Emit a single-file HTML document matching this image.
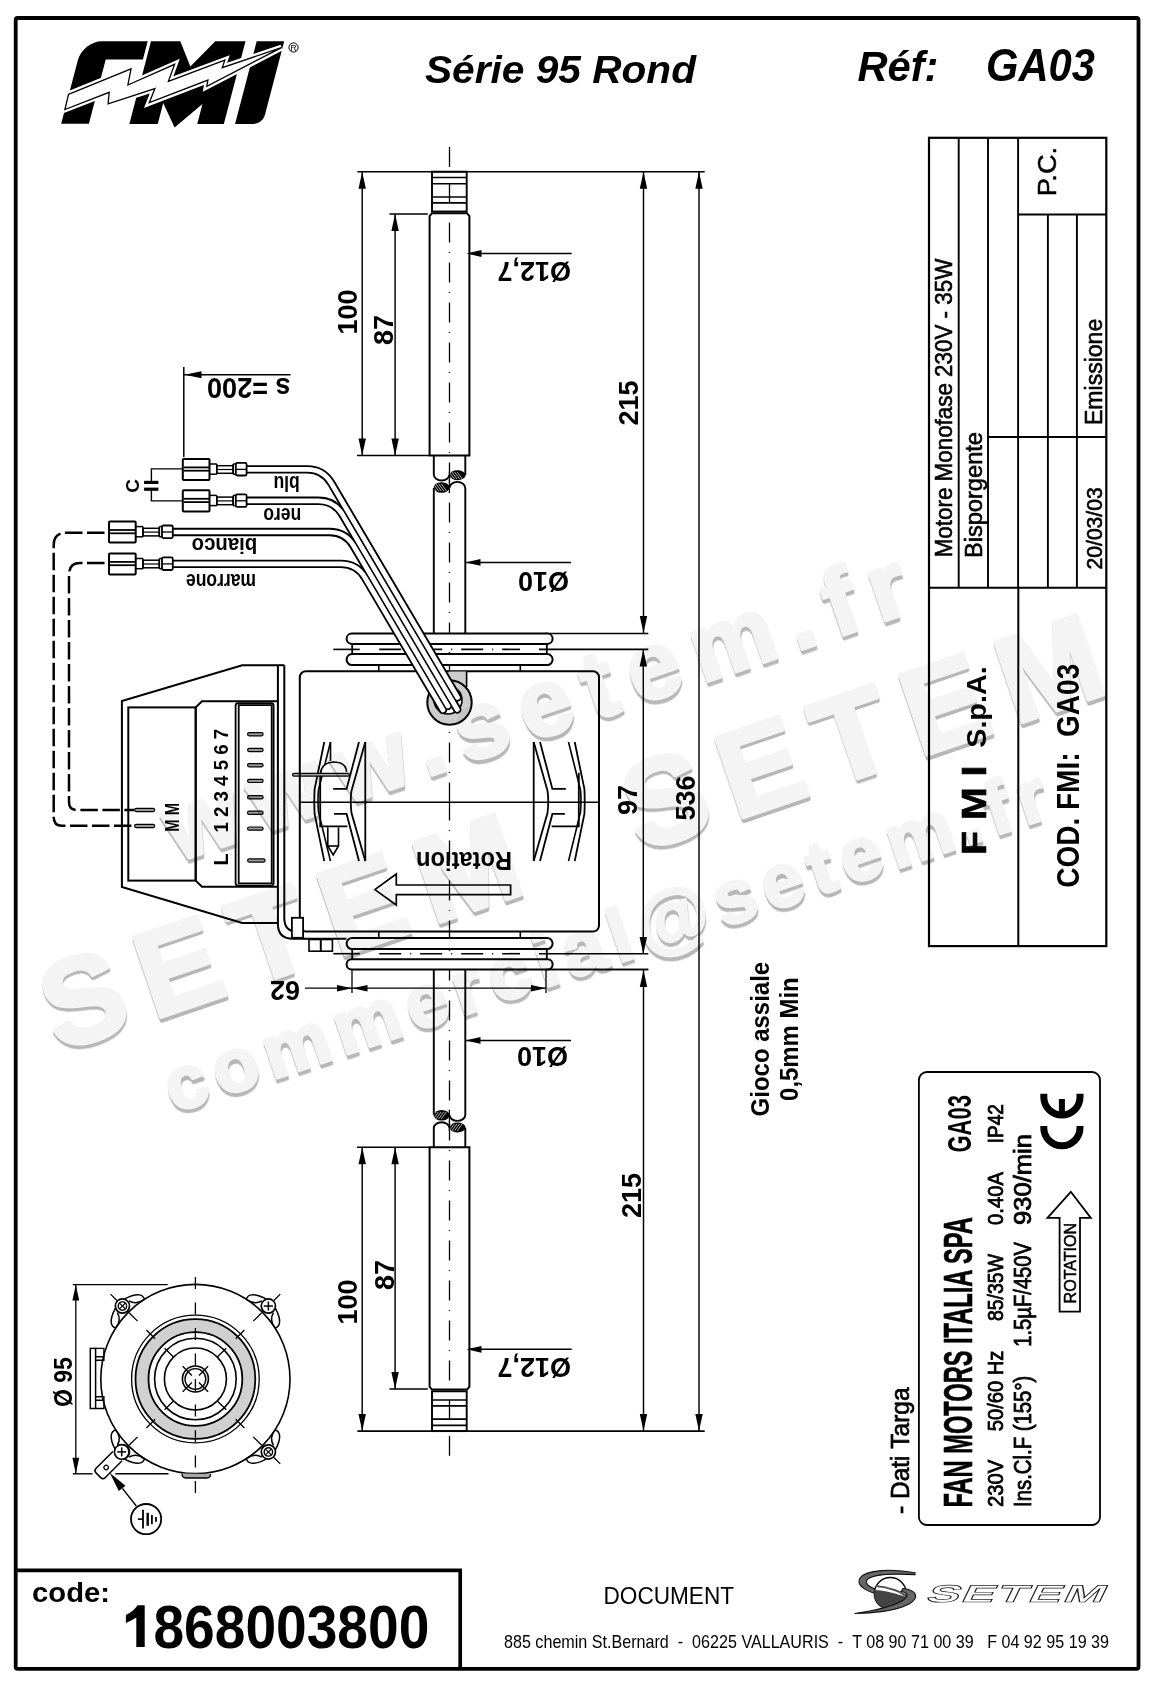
<!DOCTYPE html>
<html><head><meta charset="utf-8"><title>GA03</title>
<style>html,body{margin:0;padding:0;background:#fff;overflow:hidden;}svg{display:block;will-change:transform;}</style>
</head><body>
<svg width="1152" height="1681" viewBox="0 0 1152 1681" stroke="#000" stroke-linecap="butt" font-family='"Liberation Sans", sans-serif'><g>
<rect x="432" y="171.7" width="34.7" height="39.8" fill="none" stroke-width="1.9"/>
<line x1="432" y1="177.5" x2="466.7" y2="177.5" stroke-width="1.7" />
<line x1="432" y1="183.75" x2="466.7" y2="183.75" stroke-width="1.7" />
<line x1="432" y1="197" x2="466.7" y2="197" stroke-width="1.7" />
<line x1="432" y1="202.8" x2="466.7" y2="202.8" stroke-width="1.7" />
<line x1="449.5" y1="183.75" x2="449.5" y2="202.8" stroke-width="1.3" />
<path d="M429.6,455.6 V216 L432,213.2 H467 L469.4,216 V455.6 Z" fill="none" stroke-width="2"/>
<path d="M433.8,455.6 V474.5 A7.8,6 0 0 0 449.4,474.5" fill="none" stroke-width="1.9"/>
<path d="M465.3,455.6 V475" fill="none" stroke-width="1.9"/>
<ellipse cx="457.4" cy="475.3" rx="8.1" ry="5" fill="#000" stroke="none"/>
<ellipse cx="441.6" cy="487.5" rx="8.1" ry="5.2" fill="#000" stroke="none"/>
<line x1="446.8" y1="472" x2="451.8" y2="479" stroke="#fff" stroke-width="0.7"/>
<line x1="431.0" y1="484" x2="436.0" y2="491" stroke="#fff" stroke-width="0.7"/>
<line x1="449.4" y1="472" x2="454.4" y2="479" stroke="#fff" stroke-width="0.7"/>
<line x1="433.6" y1="484" x2="438.6" y2="491" stroke="#fff" stroke-width="0.7"/>
<line x1="452.0" y1="472" x2="457.0" y2="479" stroke="#fff" stroke-width="0.7"/>
<line x1="436.2" y1="484" x2="441.2" y2="491" stroke="#fff" stroke-width="0.7"/>
<line x1="454.6" y1="472" x2="459.6" y2="479" stroke="#fff" stroke-width="0.7"/>
<line x1="438.8" y1="484" x2="443.8" y2="491" stroke="#fff" stroke-width="0.7"/>
<line x1="457.2" y1="472" x2="462.2" y2="479" stroke="#fff" stroke-width="0.7"/>
<line x1="441.4" y1="484" x2="446.4" y2="491" stroke="#fff" stroke-width="0.7"/>
<path d="M449.4,488 A7.8,6 0 0 1 465.3,488 V634" fill="none" stroke-width="1.9"/>
<path d="M433.8,488 V634" fill="none" stroke-width="1.9"/>
<line x1="449.4" y1="471.5" x2="449.4" y2="493" stroke-width="1.2" />
<line x1="357.4" y1="171.7" x2="704.7" y2="171.7" stroke-width="1.6" />
<line x1="357" y1="455.6" x2="429" y2="455.6" stroke-width="1.5" />
<line x1="389.5" y1="213.9" x2="427.8" y2="213.9" stroke-width="1.5" />
<line x1="362.2" y1="171.7" x2="362.2" y2="455.6" stroke-width="1.45" />
<polygon points="362.20,171.70 365.90,188.70 358.50,188.70" fill="#000" stroke="none"/>
<polygon points="362.20,455.60 358.50,438.60 365.90,438.60" fill="#000" stroke="none"/>
<line x1="395.1" y1="213.9" x2="395.1" y2="455.6" stroke-width="1.45" />
<polygon points="395.10,213.90 398.80,230.90 391.40,230.90" fill="#000" stroke="none"/>
<polygon points="395.10,455.60 391.40,438.60 398.80,438.60" fill="#000" stroke="none"/>
<line x1="469.6" y1="253.5" x2="571.7" y2="253.5" stroke-width="1.5" />
<polygon points="466.50,253.50 481.50,250.10 481.50,256.90" fill="#000" stroke="none"/>
<line x1="465.5" y1="562.4" x2="571" y2="562.4" stroke-width="1.5" />
<polygon points="465.50,562.40 480.50,559.00 480.50,565.80" fill="#000" stroke="none"/>
<line x1="643.5" y1="171.7" x2="643.5" y2="632.9" stroke-width="1.45" />
<polygon points="643.50,171.70 647.20,188.70 639.80,188.70" fill="#000" stroke="none"/>
<polygon points="643.50,632.90 639.80,615.90 647.20,615.90" fill="#000" stroke="none"/>
<line x1="545" y1="633.4" x2="648.3" y2="633.4" stroke-width="1.5" />
<line x1="449.5" y1="147" x2="449.5" y2="167" stroke-width="1.3" />
<line x1="449.5" y1="222.4" x2="449.5" y2="801.4" stroke-width="1.3" stroke-dasharray="20,9.5,1,9.5"/>
</g>
<g transform="translate(0,1602.8) scale(1,-1)">
<rect x="432" y="171.7" width="34.7" height="39.8" fill="none" stroke-width="1.9"/>
<line x1="432" y1="177.5" x2="466.7" y2="177.5" stroke-width="1.7" />
<line x1="432" y1="183.75" x2="466.7" y2="183.75" stroke-width="1.7" />
<line x1="432" y1="197" x2="466.7" y2="197" stroke-width="1.7" />
<line x1="432" y1="202.8" x2="466.7" y2="202.8" stroke-width="1.7" />
<line x1="449.5" y1="183.75" x2="449.5" y2="202.8" stroke-width="1.3" />
<path d="M429.6,455.6 V216 L432,213.2 H467 L469.4,216 V455.6 Z" fill="none" stroke-width="2"/>
<path d="M433.8,455.6 V474.5 A7.8,6 0 0 0 449.4,474.5" fill="none" stroke-width="1.9"/>
<path d="M465.3,455.6 V475" fill="none" stroke-width="1.9"/>
<ellipse cx="457.4" cy="475.3" rx="8.1" ry="5" fill="#000" stroke="none"/>
<ellipse cx="441.6" cy="487.5" rx="8.1" ry="5.2" fill="#000" stroke="none"/>
<line x1="446.8" y1="472" x2="451.8" y2="479" stroke="#fff" stroke-width="0.7"/>
<line x1="431.0" y1="484" x2="436.0" y2="491" stroke="#fff" stroke-width="0.7"/>
<line x1="449.4" y1="472" x2="454.4" y2="479" stroke="#fff" stroke-width="0.7"/>
<line x1="433.6" y1="484" x2="438.6" y2="491" stroke="#fff" stroke-width="0.7"/>
<line x1="452.0" y1="472" x2="457.0" y2="479" stroke="#fff" stroke-width="0.7"/>
<line x1="436.2" y1="484" x2="441.2" y2="491" stroke="#fff" stroke-width="0.7"/>
<line x1="454.6" y1="472" x2="459.6" y2="479" stroke="#fff" stroke-width="0.7"/>
<line x1="438.8" y1="484" x2="443.8" y2="491" stroke="#fff" stroke-width="0.7"/>
<line x1="457.2" y1="472" x2="462.2" y2="479" stroke="#fff" stroke-width="0.7"/>
<line x1="441.4" y1="484" x2="446.4" y2="491" stroke="#fff" stroke-width="0.7"/>
<path d="M449.4,488 A7.8,6 0 0 1 465.3,488 V634" fill="none" stroke-width="1.9"/>
<path d="M433.8,488 V634" fill="none" stroke-width="1.9"/>
<line x1="449.4" y1="471.5" x2="449.4" y2="493" stroke-width="1.2" />
<line x1="357.4" y1="171.7" x2="704.7" y2="171.7" stroke-width="1.6" />
<line x1="357" y1="455.6" x2="429" y2="455.6" stroke-width="1.5" />
<line x1="389.5" y1="213.9" x2="427.8" y2="213.9" stroke-width="1.5" />
<line x1="362.2" y1="171.7" x2="362.2" y2="455.6" stroke-width="1.45" />
<polygon points="362.20,171.70 365.90,188.70 358.50,188.70" fill="#000" stroke="none"/>
<polygon points="362.20,455.60 358.50,438.60 365.90,438.60" fill="#000" stroke="none"/>
<line x1="395.1" y1="213.9" x2="395.1" y2="455.6" stroke-width="1.45" />
<polygon points="395.10,213.90 398.80,230.90 391.40,230.90" fill="#000" stroke="none"/>
<polygon points="395.10,455.60 391.40,438.60 398.80,438.60" fill="#000" stroke="none"/>
<line x1="469.6" y1="253.5" x2="571.7" y2="253.5" stroke-width="1.5" />
<polygon points="466.50,253.50 481.50,250.10 481.50,256.90" fill="#000" stroke="none"/>
<line x1="465.5" y1="562.4" x2="571" y2="562.4" stroke-width="1.5" />
<polygon points="465.50,562.40 480.50,559.00 480.50,565.80" fill="#000" stroke="none"/>
<line x1="643.5" y1="171.7" x2="643.5" y2="632.9" stroke-width="1.45" />
<polygon points="643.50,171.70 647.20,188.70 639.80,188.70" fill="#000" stroke="none"/>
<polygon points="643.50,632.90 639.80,615.90 647.20,615.90" fill="#000" stroke="none"/>
<line x1="545" y1="633.4" x2="648.3" y2="633.4" stroke-width="1.5" />
<line x1="449.5" y1="147" x2="449.5" y2="167" stroke-width="1.3" />
<line x1="449.5" y1="222.4" x2="449.5" y2="801.4" stroke-width="1.3" stroke-dasharray="20,9.5,1,9.5"/>
</g>
<line x1="699" y1="171.7" x2="699" y2="1431.1" stroke-width="1.45" />
<polygon points="699.00,171.70 702.70,188.70 695.30,188.70" fill="#000" stroke="none"/>
<polygon points="699.00,1431.10 695.30,1414.10 702.70,1414.10" fill="#000" stroke="none"/>
<text transform="translate(571,262) rotate(180)" font-size="27" font-weight="bold" font-style="normal" text-anchor="start" fill="#000" stroke="none" >Ø12,7</text>
<text transform="translate(569,571.5) rotate(180)" font-size="27" font-weight="bold" font-style="normal" text-anchor="start" fill="#000" stroke="none" >Ø10</text>
<text transform="translate(571,1357.5) rotate(180)" font-size="27" font-weight="bold" font-style="normal" text-anchor="start" fill="#000" stroke="none" >Ø12,7</text>
<text transform="translate(568,1047) rotate(180)" font-size="27" font-weight="bold" font-style="normal" text-anchor="start" fill="#000" stroke="none" >Ø10</text>
<text transform="translate(356.5,312) rotate(-90)" font-size="27" font-weight="bold" font-style="normal" text-anchor="middle" fill="#000" stroke="none" >100</text>
<text transform="translate(393,330) rotate(-90)" font-size="27" font-weight="bold" font-style="normal" text-anchor="middle" fill="#000" stroke="none" >87</text>
<text transform="translate(356.5,1302) rotate(-90)" font-size="27" font-weight="bold" font-style="normal" text-anchor="middle" fill="#000" stroke="none" >100</text>
<text transform="translate(393.5,1275) rotate(-90)" font-size="27" font-weight="bold" font-style="normal" text-anchor="middle" fill="#000" stroke="none" >87</text>
<text transform="translate(637.7,403) rotate(-90)" font-size="27" font-weight="bold" font-style="normal" text-anchor="middle" fill="#000" stroke="none" >215</text>
<text transform="translate(641,1195.5) rotate(-90)" font-size="27" font-weight="bold" font-style="normal" text-anchor="middle" fill="#000" stroke="none" >215</text>
<text transform="translate(637,800) rotate(-90)" font-size="27" font-weight="bold" font-style="normal" text-anchor="middle" fill="#000" stroke="none" >97</text>
<text transform="translate(694.5,798) rotate(-90)" font-size="27" font-weight="bold" font-style="normal" text-anchor="middle" fill="#000" stroke="none" >536</text>
<g>
<rect x="346.6" y="633.6" width="206" height="10.3" rx="5.1" fill="#fff" stroke-width="2"/>
<rect x="346.6" y="654" width="206" height="11.1" rx="5.5" fill="#fff" stroke-width="2"/>
<line x1="352.2" y1="643.8" x2="352.2" y2="654" stroke-width="1.8" />
<line x1="546.8" y1="643.8" x2="546.8" y2="654" stroke-width="1.8" />
<line x1="378.8" y1="665.1" x2="378.8" y2="671.2" stroke-width="1.6" />
<line x1="520.3" y1="665.1" x2="520.3" y2="671.2" stroke-width="1.6" />
<line x1="333.3" y1="649.4" x2="359.8" y2="649.4" stroke-width="1.6" />
<line x1="379.2" y1="649.4" x2="520" y2="649.4" stroke-width="1.6" stroke-dasharray="22,9,1,9"/>
<line x1="539" y1="649.4" x2="648.3" y2="649.4" stroke-width="1.6" />
</g>
<g transform="translate(0,1603.1) scale(1,-1)">
<rect x="346.6" y="633.6" width="206" height="10.3" rx="5.1" fill="#fff" stroke-width="2"/>
<rect x="346.6" y="654" width="206" height="11.1" rx="5.5" fill="#fff" stroke-width="2"/>
<line x1="352.2" y1="643.8" x2="352.2" y2="654" stroke-width="1.8" />
<line x1="546.8" y1="643.8" x2="546.8" y2="654" stroke-width="1.8" />
<line x1="378.8" y1="665.1" x2="378.8" y2="671.2" stroke-width="1.6" />
<line x1="520.3" y1="665.1" x2="520.3" y2="671.2" stroke-width="1.6" />
<line x1="333.3" y1="649.4" x2="359.8" y2="649.4" stroke-width="1.6" />
<line x1="379.2" y1="649.4" x2="520" y2="649.4" stroke-width="1.6" stroke-dasharray="22,9,1,9"/>
<line x1="539" y1="649.4" x2="648.3" y2="649.4" stroke-width="1.6" />
</g>
<line x1="545" y1="969.6" x2="648.3" y2="969.6" stroke-width="1.5" />
<g>
<path d="M324.3,742 L314.6,789 Q314,801 314.6,814 L324.3,861.1" fill="none" stroke-width="1.8"/>
<path d="M330.5,742 L318.5,790 Q317.5,801 318.5,812 L330.5,861.1" fill="none" stroke-width="1.6"/>
<line x1="365.3" y1="742" x2="365.3" y2="861.1" stroke-width="1.8" />
<path d="M359,742 L346.6,788.9 H333.2" fill="none" stroke-width="1.8"/>
<path d="M365.3,742 L351.5,790.7 Q350,801 351.5,813 L365.3,861.1" fill="none" stroke-width="1.8"/>
<path d="M334.1,813.9 H346.6 L359,861.1" fill="none" stroke-width="1.8"/>
<path d="M320.2,772.8 V826.3 H347.4" fill="none" stroke-width="1.8"/>
</g>
<g transform="translate(899.0,0) scale(-1,1)">
<path d="M324.3,742 L314.6,789 Q314,801 314.6,814 L324.3,861.1" fill="none" stroke-width="1.8"/>
<path d="M330.5,742 L318.5,790 Q317.5,801 318.5,812 L330.5,861.1" fill="none" stroke-width="1.6"/>
<line x1="365.3" y1="742" x2="365.3" y2="861.1" stroke-width="1.8" />
<path d="M359,742 L346.6,788.9 H333.2" fill="none" stroke-width="1.8"/>
<path d="M365.3,742 L351.5,790.7 Q350,801 351.5,813 L365.3,861.1" fill="none" stroke-width="1.8"/>
<path d="M334.1,813.9 H346.6 L359,861.1" fill="none" stroke-width="1.8"/>
<path d="M320.2,772.8 V826.3 H347.4" fill="none" stroke-width="1.8"/>
</g>
<path d="M320.5,774 Q321,763 333,762 Q346,762 346.6,772" fill="#fff" stroke-width="1.6"/>
<rect x="292.6" y="773.3" width="56.8" height="2.8" rx="1.2" fill="#aaa" stroke-width="1.2"/>
<path d="M327.8,827.2 V846 L333.2,854.9 L338.5,846 V827.2" fill="none" stroke-width="1.6"/>
<line x1="327.8" y1="846" x2="338.5" y2="846" stroke-width="1.6" />
<line x1="330.5" y1="742" x2="330.5" y2="761" stroke-width="1.6" />
<rect x="299.8" y="671.3" width="299.2" height="260.3" rx="6" fill="none" stroke-width="2"/>
<line x1="299.8" y1="802.3" x2="599" y2="802.3" stroke-width="1.5" />
<line x1="643.3" y1="649.4" x2="643.3" y2="954" stroke-width="1.45" />
<polygon points="643.30,649.40 647.00,666.40 639.60,666.40" fill="#000" stroke="none"/>
<polygon points="643.30,954.00 639.60,937.00 647.00,937.00" fill="#000" stroke="none"/>
<line x1="352" y1="969.5" x2="352" y2="993" stroke-width="1.3" />
<line x1="546" y1="969.5" x2="546" y2="993" stroke-width="1.3" />
<line x1="305" y1="988.2" x2="546" y2="988.2" stroke-width="1.3" />
<polygon points="352.00,988.20 337.00,991.40 337.00,985.00" fill="#000" stroke="none"/>
<polygon points="352.50,988.20 367.50,985.00 367.50,991.40" fill="#000" stroke="none"/>
<polygon points="546.00,988.20 531.00,991.40 531.00,985.00" fill="#000" stroke="none"/>
<text transform="translate(300,981) rotate(180)" font-size="27" font-weight="bold" font-style="normal" text-anchor="start" fill="#000" stroke="none" >62</text>
<rect x="309" y="939.5" width="11.7" height="11.7" fill="none" stroke-width="1.6"/>
<rect x="320.7" y="939.5" width="11.7" height="11.7" fill="none" stroke-width="1.6"/>
<path d="M374.8,889.6 L396.3,874 V885 H510.6 V894.7 H396.3 V905 Z" fill="none" stroke-width="1.7"/>
<text transform="translate(512,852.3) rotate(180)" font-size="26.5" font-weight="bold" font-style="normal" text-anchor="start" fill="#000" stroke="none"  textLength="96" lengthAdjust="spacingAndGlyphs">Rotation</text>
<rect x="449" y="671.5" width="17.5" height="20" fill="#cdcdcd" stroke="none"/>
<line x1="466.6" y1="671.5" x2="466.6" y2="687" stroke-width="1.6" />
<circle cx="449.5" cy="702.5" r="22.2" fill="#cdcdcd" stroke-width="2"/>
<circle cx="448" cy="700" r="14" fill="#fff" stroke-width="1.6"/>
<path d="M104.5,532.8 H66 Q53.7,532.8 53.7,545 V817 Q53.7,825.8 62,825.8 H134" fill="none" stroke-width="2.5" stroke-dasharray="17.5,4.5"/>
<path d="M104.5,563.1 H80 Q69,563.1 69,575 V802 Q69,810 77,810 H134" fill="none" stroke-width="2.5" stroke-dasharray="17.5,4.5"/>
<path d="M277.9,665.2 H242.2 L121.9,701 V887 L242.2,923 H277.9" fill="none" stroke-width="2"/>
<path d="M277.9,665.2 V924 Q277.9,938.8 293,938.8 H346.5" fill="none" stroke-width="2"/>
<path d="M284.3,665.2 V918 Q284.3,931.6 297,931.6 H300" fill="none" stroke-width="2"/>
<line x1="277.9" y1="665.2" x2="284.3" y2="665.2" stroke-width="2" />
<rect x="128.3" y="707.4" width="67.4" height="173.2" fill="none" stroke-width="2"/>
<path d="M277.9,701.2 H202 L195.7,707.4 V880.6 L202,886.7 H277.9" fill="none" stroke-width="2"/>
<rect x="235.6" y="703.2" width="38" height="182.4" rx="2.5" fill="none" stroke-width="1.8"/>
<rect x="238.7" y="705.1" width="33" height="178.3" fill="none" stroke-width="1.8"/>
<rect x="291.9" y="917.8" width="11.2" height="20" fill="#fff" stroke-width="1.8"/>
<rect x="247.6" y="732.6" width="15.5" height="3.2" rx="1.5" fill="#999" stroke-width="1.2"/>
<rect x="247.6" y="748.4" width="15.5" height="3.2" rx="1.5" fill="#999" stroke-width="1.2"/>
<rect x="247.6" y="763.6" width="15.5" height="3.2" rx="1.5" fill="#999" stroke-width="1.2"/>
<rect x="247.6" y="779.3" width="15.5" height="3.2" rx="1.5" fill="#999" stroke-width="1.2"/>
<rect x="247.6" y="795.6999999999999" width="15.5" height="3.2" rx="1.5" fill="#999" stroke-width="1.2"/>
<rect x="247.6" y="811.1999999999999" width="15.5" height="3.2" rx="1.5" fill="#999" stroke-width="1.2"/>
<rect x="247.6" y="827.0" width="15.5" height="3.2" rx="1.5" fill="#999" stroke-width="1.2"/>
<rect x="247.6" y="858.9" width="17.5" height="3.2" rx="1.5" fill="#999" stroke-width="1.2"/>
<rect x="134.6" y="808.4" width="20.1" height="3.2" rx="1.5" fill="#999" stroke-width="1.2"/>
<rect x="134.6" y="824.4" width="20.1" height="3.2" rx="1.5" fill="#999" stroke-width="1.2"/>
<text transform="translate(227.8,865.5) rotate(-90)" font-size="20" font-weight="bold" font-style="normal" text-anchor="start" fill="#000" stroke="none" >L</text>
<text transform="translate(227.8,832.6) rotate(-90)" font-size="20" font-weight="bold" font-style="normal" text-anchor="start" fill="#000" stroke="none"  textLength="103.8" lengthAdjust="spacingAndGlyphs">1 2 3 4 5 6 7</text>
<text transform="translate(179.3,831.8) rotate(-90)" font-size="19.5" font-weight="bold" font-style="normal" text-anchor="start" fill="#000" stroke="none"  textLength="28.8" lengthAdjust="spacingAndGlyphs">M M</text>
<path d="M246.6,469.4 H307.17 Q323.17,469.4 331.29,483.19 L457.53,697.50" fill="none" stroke="#000" stroke-width="8.4" stroke-linecap="round"/>
<path d="M246.6,500.8 H318.35 Q334.35,500.8 342.47,514.59 L457.29,709.50" fill="none" stroke="#000" stroke-width="8.4" stroke-linecap="round"/>
<path d="M172.6,532.0 H329.42 Q345.42,532.0 353.54,545.79 L447.91,706.00" fill="none" stroke="#000" stroke-width="8.4" stroke-linecap="round"/>
<path d="M172.6,563.9 H340.90 Q356.90,563.9 365.02,577.69 L442.96,710.00" fill="none" stroke="#000" stroke-width="8.4" stroke-linecap="round"/>
<path d="M246.6,469.4 H307.17 Q323.17,469.4 331.29,483.19 L457.53,697.50" fill="none" stroke="#fff" stroke-width="4.7" stroke-linecap="round"/>
<path d="M246.6,500.8 H318.35 Q334.35,500.8 342.47,514.59 L457.29,709.50" fill="none" stroke="#fff" stroke-width="4.7" stroke-linecap="round"/>
<path d="M172.6,532.0 H329.42 Q345.42,532.0 353.54,545.79 L447.91,706.00" fill="none" stroke="#fff" stroke-width="4.7" stroke-linecap="round"/>
<path d="M172.6,563.9 H340.90 Q356.90,563.9 365.02,577.69 L442.96,710.00" fill="none" stroke="#fff" stroke-width="4.7" stroke-linecap="round"/>
<rect x="182.8" y="458.9" width="26.7" height="21.1" rx="1" fill="#fff" stroke-width="2"/>
<line x1="183.8" y1="467.4" x2="209.5" y2="467.4" stroke-width="1.8" />
<line x1="183.8" y1="470.7" x2="209.5" y2="470.7" stroke-width="1.8" />
<line x1="209.5" y1="464.0" x2="216.8" y2="464.0" stroke-width="1.5" />
<line x1="209.5" y1="474.2" x2="216.8" y2="474.2" stroke-width="1.5" />
<rect x="216.8" y="465.7" width="16.3" height="7.6" fill="#fff" stroke-width="1.5"/>
<line x1="216.8" y1="469.5" x2="233.10000000000002" y2="469.5" stroke-width="1.2" />
<line x1="216.8" y1="464.0" x2="216.8" y2="474.2" stroke-width="1.5" />
<line x1="233.10000000000002" y1="464.0" x2="233.10000000000002" y2="474.2" stroke-width="1.5" />
<line x1="233.10000000000002" y1="464.0" x2="235.8" y2="464.0" stroke-width="1.5" />
<line x1="233.10000000000002" y1="474.2" x2="235.8" y2="474.2" stroke-width="1.5" />
<rect x="235.8" y="462.9" width="10.8" height="12.6" rx="1.5" fill="#fff" stroke-width="1.8"/>
<line x1="235.8" y1="469.4" x2="246.60000000000002" y2="469.4" stroke-width="1.3" />
<rect x="182.8" y="490.3" width="26.7" height="21.1" rx="1" fill="#fff" stroke-width="2"/>
<line x1="183.8" y1="498.8" x2="209.5" y2="498.8" stroke-width="1.8" />
<line x1="183.8" y1="502.1" x2="209.5" y2="502.1" stroke-width="1.8" />
<line x1="209.5" y1="495.40000000000003" x2="216.8" y2="495.40000000000003" stroke-width="1.5" />
<line x1="209.5" y1="505.6" x2="216.8" y2="505.6" stroke-width="1.5" />
<rect x="216.8" y="497.1" width="16.3" height="7.6" fill="#fff" stroke-width="1.5"/>
<line x1="216.8" y1="500.90000000000003" x2="233.10000000000002" y2="500.90000000000003" stroke-width="1.2" />
<line x1="216.8" y1="495.40000000000003" x2="216.8" y2="505.6" stroke-width="1.5" />
<line x1="233.10000000000002" y1="495.40000000000003" x2="233.10000000000002" y2="505.6" stroke-width="1.5" />
<line x1="233.10000000000002" y1="495.40000000000003" x2="235.8" y2="495.40000000000003" stroke-width="1.5" />
<line x1="233.10000000000002" y1="505.6" x2="235.8" y2="505.6" stroke-width="1.5" />
<rect x="235.8" y="494.3" width="10.8" height="12.6" rx="1.5" fill="#fff" stroke-width="1.8"/>
<line x1="235.8" y1="500.8" x2="246.60000000000002" y2="500.8" stroke-width="1.3" />
<rect x="109.0" y="521.5" width="26.7" height="21.1" rx="1" fill="#fff" stroke-width="2"/>
<line x1="110.0" y1="530.0" x2="135.7" y2="530.0" stroke-width="1.8" />
<line x1="110.0" y1="533.3" x2="135.7" y2="533.3" stroke-width="1.8" />
<line x1="135.7" y1="526.6" x2="143.0" y2="526.6" stroke-width="1.5" />
<line x1="135.7" y1="536.8" x2="143.0" y2="536.8" stroke-width="1.5" />
<rect x="143.0" y="528.3" width="16.3" height="7.6" fill="#fff" stroke-width="1.5"/>
<line x1="143.0" y1="532.1" x2="159.3" y2="532.1" stroke-width="1.2" />
<line x1="143.0" y1="526.6" x2="143.0" y2="536.8" stroke-width="1.5" />
<line x1="159.3" y1="526.6" x2="159.3" y2="536.8" stroke-width="1.5" />
<line x1="159.3" y1="526.6" x2="162.0" y2="526.6" stroke-width="1.5" />
<line x1="159.3" y1="536.8" x2="162.0" y2="536.8" stroke-width="1.5" />
<rect x="162.0" y="525.5" width="10.8" height="12.6" rx="1.5" fill="#fff" stroke-width="1.8"/>
<line x1="162.0" y1="532.0" x2="172.8" y2="532.0" stroke-width="1.3" />
<rect x="109.0" y="553.4" width="26.7" height="21.1" rx="1" fill="#fff" stroke-width="2"/>
<line x1="110.0" y1="561.9" x2="135.7" y2="561.9" stroke-width="1.8" />
<line x1="110.0" y1="565.1999999999999" x2="135.7" y2="565.1999999999999" stroke-width="1.8" />
<line x1="135.7" y1="558.5" x2="143.0" y2="558.5" stroke-width="1.5" />
<line x1="135.7" y1="568.6999999999999" x2="143.0" y2="568.6999999999999" stroke-width="1.5" />
<rect x="143.0" y="560.1999999999999" width="16.3" height="7.6" fill="#fff" stroke-width="1.5"/>
<line x1="143.0" y1="564.0" x2="159.3" y2="564.0" stroke-width="1.2" />
<line x1="143.0" y1="558.5" x2="143.0" y2="568.6999999999999" stroke-width="1.5" />
<line x1="159.3" y1="558.5" x2="159.3" y2="568.6999999999999" stroke-width="1.5" />
<line x1="159.3" y1="558.5" x2="162.0" y2="558.5" stroke-width="1.5" />
<line x1="159.3" y1="568.6999999999999" x2="162.0" y2="568.6999999999999" stroke-width="1.5" />
<rect x="162.0" y="557.4" width="10.8" height="12.6" rx="1.5" fill="#fff" stroke-width="1.8"/>
<line x1="162.0" y1="563.9" x2="172.8" y2="563.9" stroke-width="1.3" />
<text transform="translate(299.8,475.6) rotate(180)" font-size="22.5" font-weight="bold" font-style="normal" text-anchor="start" fill="#000" stroke="none"  textLength="26.3" lengthAdjust="spacingAndGlyphs">blu</text>
<text transform="translate(301.2,507.8) rotate(180)" font-size="22.5" font-weight="bold" font-style="normal" text-anchor="start" fill="#000" stroke="none"  textLength="37.8" lengthAdjust="spacingAndGlyphs">nero</text>
<text transform="translate(257.2,538.3) rotate(180)" font-size="22.5" font-weight="bold" font-style="normal" text-anchor="start" fill="#000" stroke="none"  textLength="65.5" lengthAdjust="spacingAndGlyphs">bianco</text>
<text transform="translate(256,573.8) rotate(180)" font-size="22.5" font-weight="bold" font-style="normal" text-anchor="start" fill="#000" stroke="none"  textLength="70" lengthAdjust="spacingAndGlyphs">marrone</text>
<path d="M182.8,468.9 H151.4 V482.3" fill="none" stroke-width="1.4"/>
<path d="M182.8,500.9 H151.4 V489.2" fill="none" stroke-width="1.4"/>
<rect x="144.1" y="480.8" width="14.3" height="3.2" fill="#000" stroke="none"/>
<rect x="144.1" y="487.6" width="14.3" height="3.2" fill="#000" stroke="none"/>
<text transform="translate(138.5,486) rotate(-90)" font-size="19" font-weight="bold" font-style="normal" text-anchor="middle" fill="#000" stroke="none" >C</text>
<line x1="183.8" y1="367" x2="183.8" y2="457" stroke-width="1.5" />
<line x1="183.8" y1="374.8" x2="290.5" y2="374.8" stroke-width="1.5" />
<polygon points="184.50,374.80 201.50,371.30 201.50,378.30" fill="#000" stroke="none"/>
<text transform="translate(290.5,378.2) rotate(180)" font-size="29.5" font-weight="bold" font-style="normal" text-anchor="start" fill="#000" stroke="none"  textLength="83.5" lengthAdjust="spacingAndGlyphs">s =200</text>
<rect x="929" y="137.8" width="177.3" height="808.3" fill="none" stroke-width="2.2"/>
<line x1="958.7" y1="137.8" x2="958.7" y2="587.8" stroke-width="1.9" />
<line x1="988" y1="137.8" x2="988" y2="587.8" stroke-width="1.9" />
<line x1="1018.1" y1="137.8" x2="1018.1" y2="587.8" stroke-width="1.9" />
<line x1="1047.9" y1="214.6" x2="1047.9" y2="587.8" stroke-width="1.9" />
<line x1="1076.9" y1="214.6" x2="1076.9" y2="587.8" stroke-width="1.9" />
<line x1="1018.1" y1="214.6" x2="1106.3" y2="214.6" stroke-width="2" />
<line x1="988" y1="437" x2="1106.3" y2="437" stroke-width="1.9" />
<line x1="929" y1="587.8" x2="1106.3" y2="587.8" stroke-width="2" />
<line x1="1018.3" y1="587.8" x2="1018.3" y2="946.1" stroke-width="2" />
<text transform="translate(952.3,557.3) rotate(-90)" font-size="24.5" font-weight="normal" font-style="normal" text-anchor="start" fill="#000" stroke="#000" stroke-width="0.6"  textLength="298.6" lengthAdjust="spacingAndGlyphs">Motore Monofase 230V - 35W</text>
<text transform="translate(982,558.1) rotate(-90)" font-size="23.5" font-weight="normal" font-style="normal" text-anchor="start" fill="#000" stroke="#000" stroke-width="0.6"  textLength="126.1" lengthAdjust="spacingAndGlyphs">Bisporgente</text>
<text transform="translate(1055.7,196.3) rotate(-90)" font-size="25.5" font-weight="normal" font-style="normal" text-anchor="start" fill="#000" stroke="#000" stroke-width="0.5"  textLength="49.5" lengthAdjust="spacingAndGlyphs">P.C.</text>
<text transform="translate(1101.8,425) rotate(-90)" font-size="23" font-weight="normal" font-style="normal" text-anchor="start" fill="#000" stroke="#000" stroke-width="0.6"  textLength="106.2" lengthAdjust="spacingAndGlyphs">Emissione</text>
<text transform="translate(1101.6,569.4) rotate(-90)" font-size="22.5" font-weight="normal" font-style="normal" text-anchor="start" fill="#000" stroke="#000" stroke-width="0.6"  textLength="82" lengthAdjust="spacingAndGlyphs">20/03/03</text>
<text transform="translate(985.5,855) rotate(-90)" font-size="34.3" font-weight="bold" font-style="normal" text-anchor="start" fill="#000" stroke="#000" stroke-width="0.6"  textLength="89.5" lengthAdjust="spacingAndGlyphs">F M I</text>
<text transform="translate(985.5,747.8) rotate(-90)" font-size="27.8" font-weight="bold" font-style="normal" text-anchor="start" fill="#000" stroke="none"  textLength="81.5" lengthAdjust="spacingAndGlyphs">S.p.A.</text>
<text transform="translate(1079.3,887.8) rotate(-90)" font-size="31" font-weight="bold" font-style="normal" text-anchor="start" fill="#000" stroke="none"  textLength="224" lengthAdjust="spacingAndGlyphs">COD. FMI:&#160; GA03</text>
<rect x="918.9" y="1072" width="181.1" height="453" rx="8" fill="none" stroke-width="1.8"/>
<text transform="translate(908.5,1513.9) rotate(-90)" font-size="26.2" font-weight="normal" font-style="normal" text-anchor="start" fill="#000" stroke="#000" stroke-width="0.7"  textLength="126.4" lengthAdjust="spacingAndGlyphs">- Dati&#160;Targa</text>
<text transform="translate(971.5,1507.6) rotate(-90)" font-size="41.3" font-weight="bold" font-style="normal" text-anchor="start" fill="#000" stroke="#000" stroke-width="0.6"  textLength="290.5" lengthAdjust="spacingAndGlyphs">FAN MOTORS ITALIA SPA</text>
<text transform="translate(971,1152.5) rotate(-90)" font-size="33" font-weight="bold" font-style="normal" text-anchor="start" fill="#000" stroke="none"  textLength="57.5" lengthAdjust="spacingAndGlyphs">GA03</text>
<text transform="translate(1002.9,1507) rotate(-90)" font-size="21.8" font-weight="normal" font-style="normal" text-anchor="start" fill="#000" stroke="#000" stroke-width="0.8"  textLength="47.3" lengthAdjust="spacingAndGlyphs">230V</text>
<text transform="translate(1002.9,1431.2) rotate(-90)" font-size="21.8" font-weight="normal" font-style="normal" text-anchor="start" fill="#000" stroke="#000" stroke-width="0.8"  textLength="80.5" lengthAdjust="spacingAndGlyphs">50/60 Hz</text>
<text transform="translate(1002.9,1321) rotate(-90)" font-size="21.8" font-weight="normal" font-style="normal" text-anchor="start" fill="#000" stroke="#000" stroke-width="0.8"  textLength="67" lengthAdjust="spacingAndGlyphs">85/35W</text>
<text transform="translate(1002.9,1225) rotate(-90)" font-size="21.8" font-weight="normal" font-style="normal" text-anchor="start" fill="#000" stroke="#000" stroke-width="0.8"  textLength="53" lengthAdjust="spacingAndGlyphs">0.40A</text>
<text transform="translate(1002.9,1143.4) rotate(-90)" font-size="21.8" font-weight="normal" font-style="normal" text-anchor="start" fill="#000" stroke="#000" stroke-width="0.8"  textLength="39.4" lengthAdjust="spacingAndGlyphs">IP42</text>
<text transform="translate(1031.4,1507) rotate(-90)" font-size="23" font-weight="normal" font-style="normal" text-anchor="start" fill="#000" stroke="#000" stroke-width="0.8"  textLength="131.3" lengthAdjust="spacingAndGlyphs">Ins.Cl.F (155°)</text>
<text transform="translate(1031.4,1346.7) rotate(-90)" font-size="23" font-weight="normal" font-style="normal" text-anchor="start" fill="#000" stroke="#000" stroke-width="0.8"  textLength="104.7" lengthAdjust="spacingAndGlyphs">1.5µF/450V</text>
<text transform="translate(1031.4,1225) rotate(-90)" font-size="23" font-weight="normal" font-style="normal" text-anchor="start" fill="#000" stroke="#000" stroke-width="0.8"  textLength="91" lengthAdjust="spacingAndGlyphs">930/min</text>
<path d="M1043.8,1093.8 V1097 A18.1,18.1 0 0 0 1080,1097 V1093.8" fill="none" stroke-width="7"/>
<rect x="1058.9" y="1099" width="6" height="14" fill="#000" stroke="none"/>
<path d="M1043.8,1126 V1127.7 A18.1,18.1 0 0 0 1080,1127.7 V1126" fill="none" stroke-width="7"/>
<path d="M1070.8,1191.8 L1090.8,1217.9 H1080 V1311.6 H1059.6 V1217.9 H1047.5 Z" fill="none" stroke-width="1.8"/>
<text transform="translate(1075.8,1303.4) rotate(-90)" font-size="17" font-weight="normal" font-style="normal" text-anchor="start" fill="#000" stroke="#000" stroke-width="0.55"  textLength="80.5" lengthAdjust="spacingAndGlyphs">ROTATION</text>
<text transform="translate(768.9,1116.4) rotate(-90)" font-size="26.4" font-weight="bold" font-style="normal" text-anchor="start" fill="#000" stroke="none"  textLength="154.6" lengthAdjust="spacingAndGlyphs">Gioco assiale</text>
<text transform="translate(798,1100.9) rotate(-90)" font-size="26.3" font-weight="bold" font-style="normal" text-anchor="start" fill="#000" stroke="none"  textLength="123.6" lengthAdjust="spacingAndGlyphs">0,5mm Min</text>
<circle cx="195.4" cy="1379" r="53.4" fill="none" stroke="#d0d0d0" stroke-width="13"/>
<circle cx="195.4" cy="1379" r="94.6" fill="none" stroke-width="1.6"/>
<circle cx="195.4" cy="1379" r="63.8" fill="none" stroke-width="1.3"/>
<circle cx="195.4" cy="1379" r="59.9" fill="none" stroke-width="1.8"/>
<circle cx="195.4" cy="1379" r="46.9" fill="none" stroke-width="1.8"/>
<circle cx="195.4" cy="1379" r="40.8" fill="none" stroke-width="1.6"/>
<circle cx="195.4" cy="1379" r="31.0" fill="none" stroke-width="1.6"/>
<circle cx="195.4" cy="1379" r="13.0" fill="none" stroke-width="1.6"/>
<circle cx="195.4" cy="1379" r="10.4" fill="none" stroke-width="1.4"/>
<g transform="translate(195.4,1379) rotate(-45)" fill="none">
<path d="M92.3,20.3 C96,22.5 102,21.5 106.6,6.6" stroke-width="1.5"/>
<path d="M92.3,20.3 C93.2,14 97,9.5 102.2,8.2" stroke-width="1.5"/>
<path d="M92.3,-20.3 C96,-22.5 102,-21.5 106.6,-6.6" stroke-width="1.5"/>
<path d="M92.3,-20.3 C93.2,-14 97,-9.5 102.2,-8.2" stroke-width="1.5"/>
<circle cx="103.2" cy="0" r="7.1" fill="#fff" stroke-width="1.7"/>
</g>
<line x1="263.77" y1="1306.03" x2="272.97" y2="1306.03" stroke-width="1.5" />
<line x1="268.37" y1="1301.43" x2="268.37" y2="1310.63" stroke-width="1.5" />
<g transform="translate(195.4,1379) rotate(-135)" fill="none">
<path d="M92.3,20.3 C96,22.5 102,21.5 106.6,6.6" stroke-width="1.5"/>
<path d="M92.3,20.3 C93.2,14 97,9.5 102.2,8.2" stroke-width="1.5"/>
<path d="M92.3,-20.3 C96,-22.5 102,-21.5 106.6,-6.6" stroke-width="1.5"/>
<path d="M92.3,-20.3 C93.2,-14 97,-9.5 102.2,-8.2" stroke-width="1.5"/>
<circle cx="103.2" cy="0" r="7.1" fill="#fff" stroke-width="1.7"/>
</g>
<circle cx="122.43" cy="1306.03" r="4.2" fill="#fff" stroke-width="1.4"/>
<line x1="119.53" y1="1303.13" x2="125.33" y2="1308.93" stroke-width="1.2" />
<line x1="119.53" y1="1308.93" x2="125.33" y2="1303.13" stroke-width="1.2" />
<g transform="translate(195.4,1379) rotate(45)" fill="none">
<path d="M92.3,20.3 C96,22.5 102,21.5 106.6,6.6" stroke-width="1.5"/>
<path d="M92.3,20.3 C93.2,14 97,9.5 102.2,8.2" stroke-width="1.5"/>
<path d="M92.3,-20.3 C96,-22.5 102,-21.5 106.6,-6.6" stroke-width="1.5"/>
<path d="M92.3,-20.3 C93.2,-14 97,-9.5 102.2,-8.2" stroke-width="1.5"/>
<circle cx="103.2" cy="0" r="7.1" fill="#fff" stroke-width="1.7"/>
</g>
<circle cx="268.37" cy="1451.97" r="4.2" fill="#fff" stroke-width="1.4"/>
<line x1="265.47" y1="1449.07" x2="271.27" y2="1454.87" stroke-width="1.2" />
<line x1="265.47" y1="1454.87" x2="271.27" y2="1449.07" stroke-width="1.2" />
<g transform="translate(195.4,1379) rotate(135)" fill="none">
<path d="M92.3,20.3 C96,22.5 102,21.5 106.6,6.6" stroke-width="1.5"/>
<path d="M92.3,20.3 C93.2,14 97,9.5 102.2,8.2" stroke-width="1.5"/>
<path d="M92.3,-20.3 C96,-22.5 102,-21.5 106.6,-6.6" stroke-width="1.5"/>
<path d="M92.3,-20.3 C93.2,-14 97,-9.5 102.2,-8.2" stroke-width="1.5"/>
<circle cx="103.2" cy="0" r="7.1" fill="#fff" stroke-width="1.7"/>
</g>
<line x1="117.83" y1="1451.97" x2="127.03" y2="1451.97" stroke-width="1.5" />
<line x1="122.43" y1="1447.37" x2="122.43" y2="1456.57" stroke-width="1.5" />
<line x1="195.4" y1="1277" x2="195.4" y2="1493" stroke-width="1.3" stroke-dasharray="12,13.5"/>
<g transform="translate(195.4,1379) rotate(45)">
<path d="M5,0 H18 M31,0 H43.6 M57,0 H69.3 M81.8,0 H93.8 M111,0 H120" fill="none" stroke-width="1.3"/>
</g>
<g transform="translate(195.4,1379) rotate(135)">
<path d="M5,0 H18 M31,0 H43.6 M57,0 H69.3 M81.8,0 H93.8 M111,0 H120" fill="none" stroke-width="1.3"/>
</g>
<g transform="translate(195.4,1379) rotate(-45)">
<path d="M5,0 H18 M31,0 H43.6 M57,0 H69.3 M81.8,0 H93.8 M111,0 H120" fill="none" stroke-width="1.3"/>
</g>
<g transform="translate(195.4,1379) rotate(-135)">
<path d="M5,0 H18 M31,0 H43.6 M57,0 H69.3 M81.8,0 H93.8 M111,0 H120" fill="none" stroke-width="1.3"/>
</g>
<rect x="90.3" y="1348.4" width="5.3" height="60.1" fill="#fff" stroke-width="1.5"/>
<path d="M95.6,1348.4 H103.9 V1360.2 H95.6 M96,1356.7 H103.9" fill="none" stroke-width="1.4"/>
<path d="M95.6,1408.5 H103.9 V1396.7 H95.6 M96,1400.2 H103.9" fill="none" stroke-width="1.4"/>
<path d="M182,1473.5 Q182,1478 186,1478 H207 Q210.5,1478 210.5,1474" fill="#aaa" stroke-width="1.3"/>
<line x1="72.8" y1="1284.6" x2="167.7" y2="1284.6" stroke-width="1.4" />
<line x1="72.8" y1="1473.8" x2="92.5" y2="1473.8" stroke-width="1.4" />
<line x1="115.4" y1="1473.8" x2="168.5" y2="1473.8" stroke-width="1.4" />
<line x1="75.8" y1="1284.6" x2="75.8" y2="1473.8" stroke-width="1.3" />
<polygon points="75.80,1284.60 79.20,1300.60 72.40,1300.60" fill="#000" stroke="none"/>
<polygon points="75.80,1473.80 72.40,1457.80 79.20,1457.80" fill="#000" stroke="none"/>
<text transform="translate(71.9,1407.1) rotate(-90)" font-size="26" font-weight="bold" font-style="normal" text-anchor="start" fill="#000" stroke="none"  textLength="50" lengthAdjust="spacingAndGlyphs">Ø 95</text>
<g transform="translate(121.7,1451.9) rotate(135)">
<path d="M6,-6.5 H30 Q33,-6.5 33,-3 V3 Q33,6.5 30,6.5 H6" fill="#fff" stroke-width="1.5"/>
<circle cx="22" cy="0" r="2.2" fill="none" stroke-width="1.2"/>
</g>
<circle cx="121.7" cy="1451.9" r="7.3" fill="#fff" stroke-width="1.6"/>
<line x1="117.2" y1="1451.9" x2="126.2" y2="1451.9" stroke-width="1.5" />
<line x1="121.7" y1="1447.4" x2="121.7" y2="1456.4" stroke-width="1.5" />
<line x1="136.3" y1="1506" x2="122.5" y2="1488.5" stroke-width="1.3" />
<polygon points="109.70,1472.70 125.47,1485.71 118.82,1491.00" fill="#000" stroke="none"/>
<circle cx="146.1" cy="1519.1" r="15.1" fill="#fff" stroke-width="1.8"/>
<line x1="137.8" y1="1519.1" x2="143" y2="1519.1" stroke-width="1.6" />
<line x1="143" y1="1509.7" x2="143" y2="1528.4" stroke-width="1.8" />
<line x1="147.7" y1="1512.8" x2="147.7" y2="1525.8" stroke-width="2.4" />
<line x1="151.9" y1="1514.9" x2="151.9" y2="1524.3" stroke-width="1.8" />
<line x1="156" y1="1517" x2="156" y2="1521.7" stroke-width="1.8" />
<polygon points="77.82,60.25 79.16,56.54 81.17,52.98 83.79,49.69 86.91,46.81 90.41,44.45 94.15,42.70 98.00,41.62 101.80,41.25 147.70,41.25 142.92,59.50 105.72,59.50 88.90,123.70 61.20,123.70" fill="#000" stroke="none"/>
<polygon points="151.00,41.25 180.30,41.25 190.36,66.60 215.30,41.25 245.50,41.25 223.85,123.90 197.25,123.90 202.46,104.00 174.60,127.50 163.22,103.00 157.75,123.90 129.35,123.90" fill="#000" stroke="none"/>
<polygon points="256.70,41.25 284.20,41.25 264.90,114.90 263.99,117.23 262.52,119.40 260.60,121.26 258.36,122.69 255.96,123.59 253.55,123.90 235.05,123.90" fill="#000" stroke="none"/>
<polygon points="68.5,94.4 131,68.9 127.9,85 174.6,64.3 168.4,81.3 224.8,60.2 222.3,67.6 281.5,47.6 206.8,86.3 207.9,80.1 149.3,102.7 154.9,88.6 108.1,103.75 109.2,92.3 64.9,109.5" fill="#fff" stroke="#fff" stroke-width="6" stroke-linejoin="miter"/>
<polygon points="68.5,94.4 131,68.9 127.9,85 174.6,64.3 168.4,81.3 224.8,60.2 222.3,67.6 281.5,47.6 206.8,86.3 207.9,80.1 149.3,102.7 154.9,88.6 108.1,103.75 109.2,92.3 64.9,109.5" fill="#fff" stroke="#000" stroke-width="1.3" stroke-linejoin="miter"/>
<circle cx="293.5" cy="47.5" r="4.6" fill="none" stroke-width="1"/>
<text x="293.5" y="50.6" font-size="8.5" text-anchor="middle" fill="#000" stroke="none">R</text>
<path d="M915,1572.8 C893,1568.5 866,1569.5 860,1578 C855.5,1585 866,1592 880,1594.5 L881.5,1590.8 C871,1588.5 864.5,1584.5 867,1580 C871,1574.5 893,1573.5 915,1574.6 Z" fill="#666" stroke="#111" stroke-width="1.1"/>
<circle cx="890.3" cy="1593.5" r="16" fill="#fff" stroke-width="1.4"/>
<path d="M874.6,1590 A16,16 0 0 0 906,1597 C898,1594 884,1590 874.6,1590 Z" fill="#444" stroke="none"/>
<path d="M876,1586 C888,1587 903,1592 906.5,1597" fill="none" stroke="#555" stroke-width="2.2"/>
<path d="M903,1588.5 C917,1590 920,1598 909,1604 C896,1611 872,1613.5 854.5,1613.5 C872,1611 890,1607.5 901,1601.5 C909,1597 909,1592.5 901,1591.5 Z" fill="#666" stroke="#111" stroke-width="1.1"/>
<text transform="translate(924.5,1601.6) skewX(-26) scale(2.05,1)" font-size="24.2" font-weight="bold" fill="#fff" stroke="#222" stroke-width="1.1" vector-effect="non-scaling-stroke" textLength="87" lengthAdjust="spacing">SETEM</text>
<rect x="15.7" y="18" width="1122.8" height="1650.8" rx="2" fill="none" stroke-width="3.8"/>
<path d="M15.7,1570.3 H460.2 V1668.8" fill="none" stroke-width="3.7"/>
<text transform="translate(32,1601.7)" font-size="28" font-weight="bold" font-style="normal" text-anchor="start" fill="#000" stroke="none"  textLength="78" lengthAdjust="spacingAndGlyphs">code:</text>
<path d="M144.7,1605.2 V1646.9 H136.3 V1617.4 C133,1619.5 129.5,1621.3 125.9,1622.9 V1614.9 C131,1612.5 135,1609 137.6,1605.2 Z" fill="#000" stroke="none"/>
<text transform="translate(153.45,1647.5)" font-size="60.5" font-weight="bold" font-style="normal" text-anchor="start" fill="#000" stroke="none"  textLength="275.85" lengthAdjust="spacingAndGlyphs">868003800</text>
<text transform="translate(603.5,1604.3)" font-size="23.3" font-weight="normal" font-style="normal" text-anchor="start" fill="#000" stroke="none"  textLength="130.5" lengthAdjust="spacingAndGlyphs">DOCUMENT</text>
<text transform="translate(504,1648.3)" font-size="17.8" font-weight="normal" font-style="normal" text-anchor="start" fill="#000" stroke="none"  textLength="605" lengthAdjust="spacingAndGlyphs">885 chemin St.Bernard&#160; - &#160;06225 VALLAURIS&#160; - &#160;T 08 90 71 00 39&#160;&#160; F 04 92 95 19 39</text>
<text transform="translate(425,83)" font-size="39" font-weight="bold" font-style="italic" text-anchor="start" fill="#000" stroke="none"  textLength="271" lengthAdjust="spacingAndGlyphs">Série 95 Rond</text>
<text transform="translate(857.5,80.7)" font-size="43" font-weight="bold" font-style="italic" text-anchor="start" fill="#000" stroke="none"  textLength="81" lengthAdjust="spacingAndGlyphs">Réf:</text>
<text transform="translate(986,81.3)" font-size="45.5" font-weight="bold" font-style="italic" text-anchor="start" fill="#000" stroke="none"  textLength="109" lengthAdjust="spacingAndGlyphs">GA03</text>
<defs><filter id="wb" x="-5%" y="-20%" width="110%" height="140%"><feGaussianBlur stdDeviation="0.6"/></filter></defs>
<g opacity="0.3" font-weight="bold" stroke-linejoin="round" style="mix-blend-mode:multiply">
<text transform="translate(177.6,865.9) rotate(-18.8)" font-size="95" letter-spacing="15" fill="#111" stroke="#111" stroke-width="3.5" filter="url(#wb)">www.setem.fr</text>
<text transform="translate(58.9,1055.8000000000002) rotate(-18.8)" font-size="122" letter-spacing="19.2" fill="#111" stroke="#111" stroke-width="4" filter="url(#wb)">SETEM</text>
<text transform="translate(641.0,856.1999999999999) rotate(-18.8)" font-size="122" letter-spacing="19.2" fill="#111" stroke="#111" stroke-width="4" filter="url(#wb)">SETEM</text>
<text transform="translate(174.6,1116.9) rotate(-18.67)" font-size="75" letter-spacing="8.1" fill="#111" stroke="#111" stroke-width="3" filter="url(#wb)">commercial@setem.fr</text>
<text transform="translate(177,862) rotate(-18.8)" font-size="95" letter-spacing="15" fill="#d9d9d9" stroke="#d9d9d9" stroke-width="3.5">www.setem.fr</text>
<text transform="translate(58.3,1051.9) rotate(-18.8)" font-size="122" letter-spacing="19.2" fill="#d9d9d9" stroke="#d9d9d9" stroke-width="4">SETEM</text>
<text transform="translate(640.4,852.3) rotate(-18.8)" font-size="122" letter-spacing="19.2" fill="#d9d9d9" stroke="#d9d9d9" stroke-width="4">SETEM</text>
<text transform="translate(174,1113) rotate(-18.67)" font-size="75" letter-spacing="8.1" fill="#d9d9d9" stroke="#d9d9d9" stroke-width="3">commercial@setem.fr</text>
</g></svg>
</body></html>
